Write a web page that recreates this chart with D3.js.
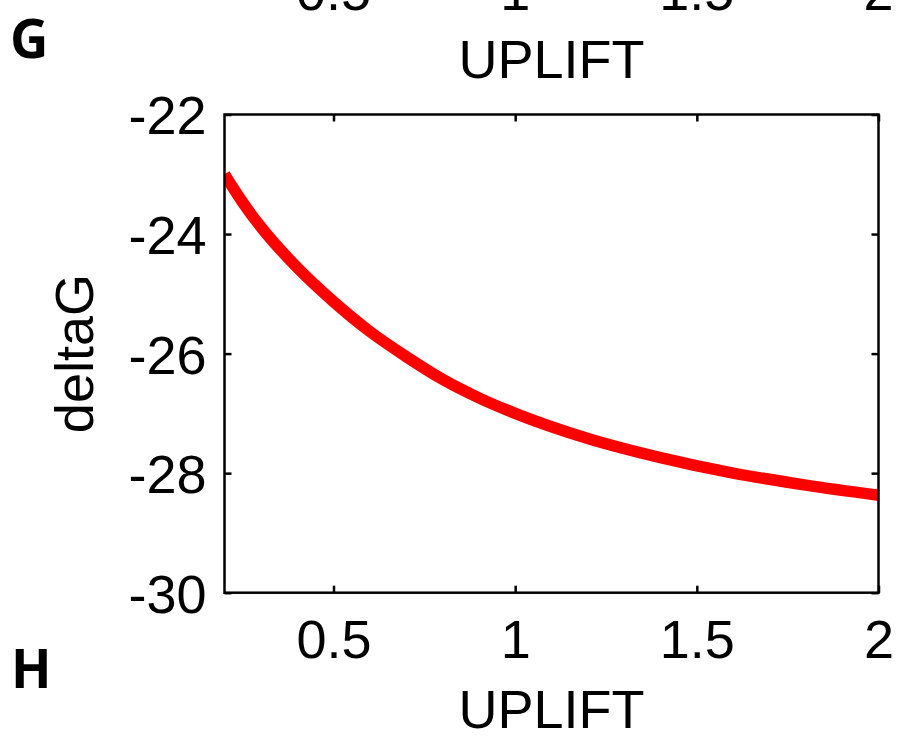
<!DOCTYPE html>
<html>
<head>
<meta charset="utf-8">
<script src="https://d3js.org/d3.v7.min.js"></script>
<style>
  body { margin: 0; background: #fff; }
  svg text { font-family: "Liberation Sans", Arial, sans-serif; fill: #000; }
</style>
</head>
<body>
<svg width="897" height="737"></svg>
<script>
// values
var uplift = [0.2, 0.25, 0.3, 0.4, 0.5, 0.6, 0.7, 0.8, 0.9, 1.0, 1.2, 1.4, 1.6, 1.8, 2.0];
var deltaG = [-23.0, -23.47, -23.88, -24.56, -25.13, -25.63, -26.05, -26.43, -26.74, -27.0, -27.42, -27.74, -28.0, -28.2, -28.37];
var xTicks = [0.5, 1, 1.5, 2];
var yTicks = [-30, -28, -26, -24, -22];

var svg = d3.select("svg");
var pLeft = 224.5, pRight = 878.5, pTop = 114.5, pBottom = 592.7;
var fs = 54;
var fmt = function(d) { return String(d); };   // plain hyphen minus like the original

var x = d3.scaleLinear().domain([0.2, 2]).range([pLeft, pRight]);
var y = d3.scaleLinear().domain([-30, -22]).range([pBottom, pTop]);

svg.append("clipPath").attr("id", "clip")
  .append("rect").attr("x", pLeft).attr("y", pTop)
  .attr("width", pRight - pLeft).attr("height", pBottom - pTop);

// curve
var line = d3.line()
  .x(function(d, i) { return x(uplift[i]); })
  .y(function(d) { return y(d); })
  .curve(d3.curveMonotoneX);

svg.append("path")
  .datum(deltaG)
  .attr("clip-path", "url(#clip)")
  .attr("d", line)
  .attr("fill", "none")
  .attr("stroke", "#ff0000")
  .attr("stroke-width", 11.5);

// box with inward ticks on all four sides
function styleAxis(g) {
  g.select(".domain").remove();
  g.selectAll(".tick line").attr("stroke", "#000").attr("stroke-width", 2.5);
}

svg.append("g").attr("transform", "translate(0," + pBottom + ")")
  .call(d3.axisBottom(x).tickValues(xTicks).tickSize(-7).tickFormat(fmt))
  .call(styleAxis)
  .call(function(g) {
    g.selectAll(".tick text").attr("y", 65).attr("dy", null)
      .style("font-size", fs + "px").style("font-family", "Liberation Sans, Arial, sans-serif");
  });

svg.append("g").attr("transform", "translate(0," + pTop + ")")
  .call(d3.axisTop(x).tickValues(xTicks).tickSize(-7).tickFormat(""))
  .call(styleAxis);

svg.append("g").attr("transform", "translate(" + pLeft + ",0)")
  .call(d3.axisLeft(y).tickValues(yTicks).tickSize(-7).tickFormat(fmt))
  .call(styleAxis)
  .call(function(g) {
    g.selectAll(".tick text").attr("x", -18).attr("dy", "0.36em")
      .style("font-size", fs + "px").style("font-family", "Liberation Sans, Arial, sans-serif");
  });

svg.append("g").attr("transform", "translate(" + pRight + ",0)")
  .call(d3.axisRight(y).tickValues(yTicks).tickSize(-7).tickFormat(""))
  .call(styleAxis);

svg.append("rect")
  .attr("x", pLeft).attr("y", pTop)
  .attr("width", pRight - pLeft).attr("height", pBottom - pTop)
  .attr("fill", "none").attr("stroke", "#000").attr("stroke-width", 2.5);

// axis titles
svg.append("text")
  .attr("x", (pLeft + pRight) / 2).attr("y", 728)
  .attr("text-anchor", "middle").style("font-size", fs + "px")
  .text("UPLIFT");

svg.append("text")
  .attr("transform", "translate(93," + ((pTop + pBottom) / 2) + ") rotate(-90)")
  .attr("text-anchor", "middle").style("font-size", fs + "px")
  .text("deltaG");

// bottom of the panel above (cut off by the frame)
var upper = svg.append("g").attr("transform", "translate(0," + (pBottom - 648) + ")");
upper.selectAll("text.tk")
  .data(xTicks)
  .enter().append("text")
  .attr("class", "tk")
  .attr("x", function(d) { return x(d); })
  .attr("y", 65)
  .attr("text-anchor", "middle")
  .style("font-size", fs + "px")
  .text(fmt);
upper.append("text")
  .attr("x", (pLeft + pRight) / 2).attr("y", 133)
  .attr("text-anchor", "middle").style("font-size", fs + "px")
  .text("UPLIFT");

// panel letters
svg.append("text")
  .attr("x", 10).attr("y", 58).style("font-size", "53px")
  .style("font-family", "Open Sans, sans-serif").style("font-weight", 700)
  .text("G");
svg.append("text")
  .attr("x", 11).attr("y", 688).style("font-size", "53px")
  .style("font-family", "Open Sans, sans-serif").style("font-weight", 700)
  .text("H");
</script>
</body>
</html>
